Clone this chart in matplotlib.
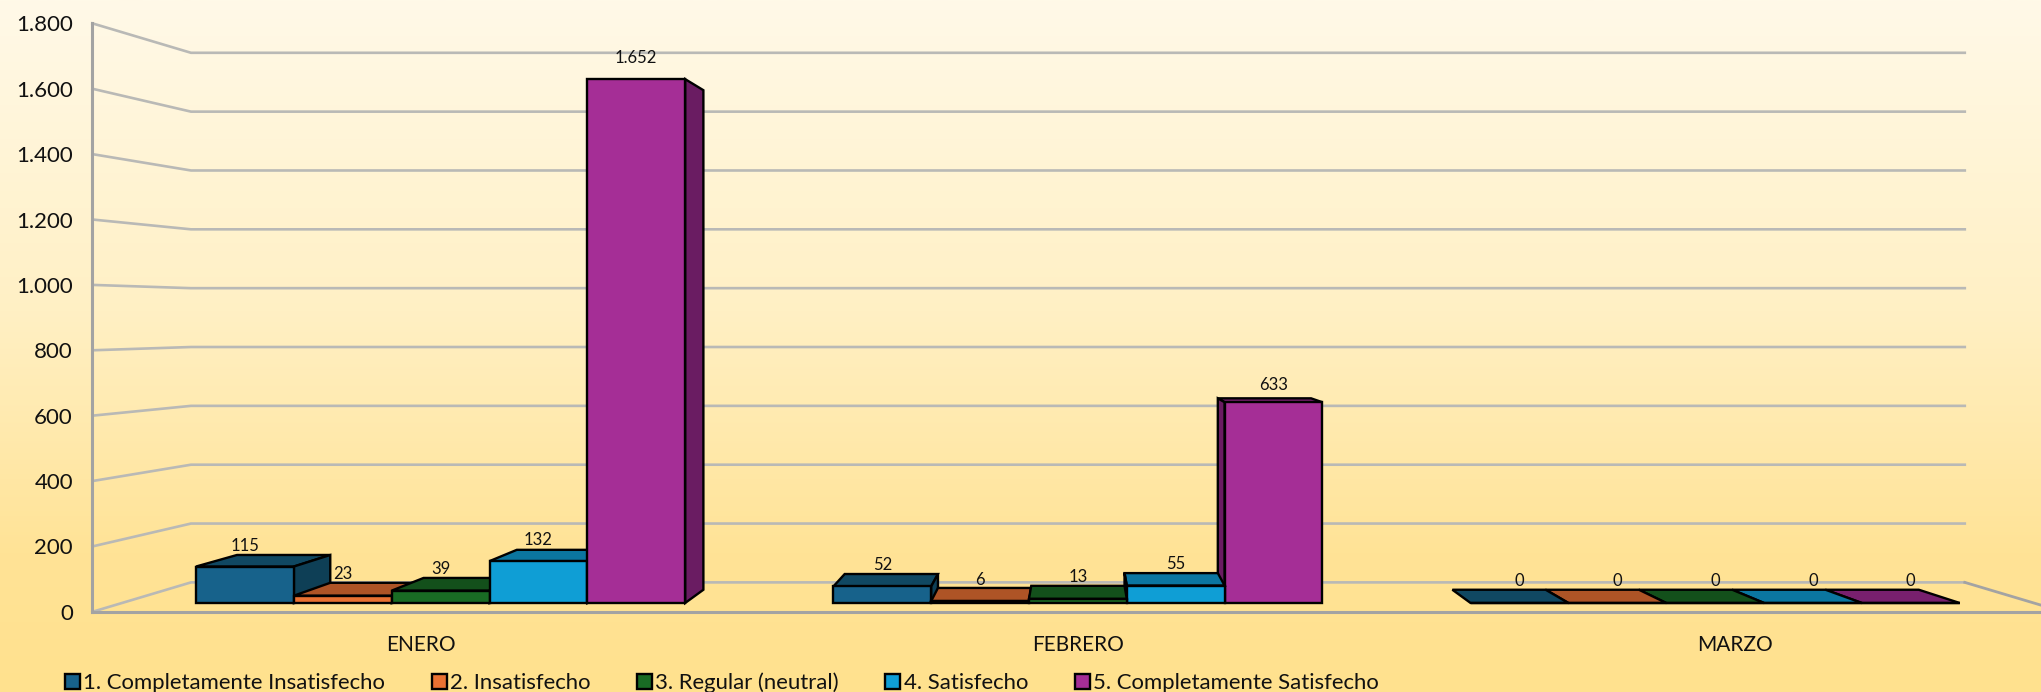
import numpy as np
import matplotlib
matplotlib.use("Agg")
import matplotlib.pyplot as plt
from matplotlib.colors import LinearSegmentedColormap
from matplotlib.patches import Patch, Polygon
from matplotlib.ticker import FuncFormatter

months = ["ENERO", "FEBRERO", "MARZO"]
series = ["1. Completamente Insatisfecho", "2. Insatisfecho", "3. Regular (neutral)",
          "4. Satisfecho", "5. Completamente Satisfecho"]
insatisfecho_total = [115, 52, 0]
insatisfecho = [23, 6, 0]
regular = [39, 13, 0]
satisfecho = [132, 55, 0]
satisfecho_total = [1652, 633, 0]
values = [insatisfecho_total, insatisfecho, regular, satisfecho, satisfecho_total]
y_ticks = list(range(0, 2000, 200))

front_colors = ["#17628B", "#E97132", "#196B24", "#0F9ED5", "#A52E96"]
top_colors = ["#104862", "#AE5426", "#13501B", "#0B76A0", "#78206E"]
side_colors = ["#0E3F56", "#99491F", "#0F4416", "#0A678C", "#6A1C62"]
grid_color = "#B9B9B6"
axis_color = "#A3A3A3"

# fake 3d: every point shrinks towards the vanishing point as depth grows
eye_x, eye_y = 1.5, 900
wall_depth = 0.1
bar_front, bar_back = 0.03, 0.075
bar_w = 0.1535


def project(x, y, d):
    return x + (eye_x - x) * d, y + (eye_y - y) * d


plt.rcParams["font.family"] = ["Lato", "DejaVu Sans"]
fig = plt.figure(figsize=(20.41, 6.92), dpi=100)

# background gradient
bg = fig.add_axes([0, 0, 1, 1], zorder=0)
cmap = LinearSegmentedColormap.from_list("bg", [(0, "#FFF9E8"), (0.45, "#FFF0C4"), (0.8, "#FFE396"), (1, "#FFE18E")])
bg.imshow(np.linspace(0, 1, 256).reshape(-1, 1), aspect="auto", cmap=cmap)
bg.axis("off")

ax = fig.add_axes([0, 0, 1, 1], zorder=1)
ax.patch.set_alpha(0)
ax.set_xlim(-0.1407, 2.966)
ax.set_ylim(-245.3, 1871.5)

# walls
for v in y_ticks:
    bx, by = project(0, v, wall_depth)
    ex, ey = project(3, v, wall_depth)
    ax.plot([0, bx, ex], [v, by, ey], color=grid_color, lw=1.9, zorder=1, solid_joinstyle="miter")
bx, by = project(3, 0, wall_depth)
ax.plot([bx, 3], [by, 0], color=axis_color, lw=2, zorder=1)

for name in ["top", "right"]:
    ax.spines[name].set_visible(False)
ax.spines["left"].set_position(("data", 0))
ax.spines["bottom"].set_position(("data", 0))
ax.spines["left"].set_bounds(0, 1800)
ax.spines["bottom"].set_bounds(0, 3)
for name in ["left", "bottom"]:
    ax.spines[name].set_color(axis_color)
    ax.spines[name].set_linewidth(2.2)
    ax.spines[name].set_zorder(2)
ax.set_yticks(y_ticks)
ax.yaxis.set_major_formatter(FuncFormatter(lambda v, p: f"{int(v):,}".replace(",", ".")))
ax.set_xticks([i + 0.5 for i in range(len(months))], months)
ax.tick_params(axis="y", length=0, pad=14, labelsize=16, labelcolor="#111111")
ax.tick_params(axis="x", length=0, pad=17, labelsize=15, labelcolor="#111111")

# bars, outermost first so the inner ones cover the shared side faces
bars = []
for m in range(len(months)):
    for s in range(len(series)):
        left = m + 0.5 + (s - 2.5) * bar_w
        bars.append((m, s, left, left + bar_w))
bars.sort(key=lambda b: -abs((b[2] + b[3]) / 2 - eye_x))

z = 3
for m, s, left, right in bars:
    v = values[s][m]
    fl = project(left, v, bar_front)
    fr = project(right, v, bar_front)
    bl = project(left, v, bar_back)
    br = project(right, v, bar_back)
    fl0 = project(left, 0, bar_front)
    fr0 = project(right, 0, bar_front)
    style = dict(edgecolor="black", linewidth=1.7, joinstyle="miter")
    if v < eye_y:
        ax.add_patch(Polygon([fl, fr, br, bl], facecolor=top_colors[s], zorder=z, **style))
    if v > 0:
        if right < eye_x:
            br0 = project(right, 0, bar_back)
            ax.add_patch(Polygon([fr0, fr, br, br0], facecolor=side_colors[s], zorder=z, **style))
        elif left > eye_x:
            bl0 = project(left, 0, bar_back)
            ax.add_patch(Polygon([fl0, fl, bl, bl0], facecolor=side_colors[s], zorder=z, **style))
    ax.add_patch(Polygon([fl0, fr0, fr, fl], facecolor=front_colors[s], zorder=z, **style))
    z += 1
    gap = 15 if v < eye_y else 27
    ax.annotate(f"{v:,}".replace(",", "."), ((fl[0] + fr[0]) / 2, (fl[1] + bl[1]) / 2),
                xytext=(0, gap * 0.72), textcoords="offset points", ha="center", va="center",
                fontsize=12, color="#111111", zorder=50)

handles = [Patch(facecolor=front_colors[i], edgecolor="black", linewidth=1.7) for i in range(len(series))]
fig.legend(handles, series, ncol=5, loc="lower left", bbox_to_anchor=(0.0221, -0.03), frameon=False,
           fontsize=15.9, handlelength=0.68, handleheight=0.68, handletextpad=0.15,
           columnspacing=2.1, labelcolor="#111111")

fig.savefig("out.png", dpi=100)
